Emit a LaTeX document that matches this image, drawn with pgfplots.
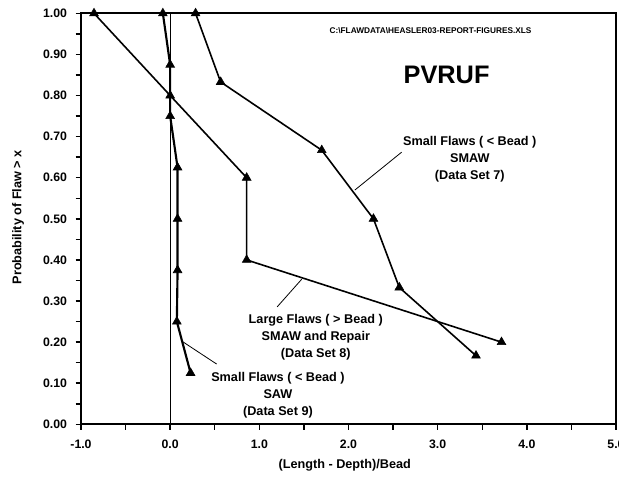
\documentclass[border=0pt]{standalone}
\usepackage{fontspec}
\setmainfont{Liberation Sans}
\usepackage{pgfplots}
\pgfplotsset{compat=1.18}
\begin{document}
\begin{tikzpicture}
\begin{axis}[
 scale only axis, width=401.25pt, height=308.25pt,
 at={(60.75pt,44.0pt)}, anchor=south west,
 xmin=-1, xmax=5, ymin=0, ymax=1,
 clip=false,
 xtick={-1,0,1,2,3,4,5},
 ytick={0,0.1,0.2,0.3,0.4,0.5,0.6,0.7,0.8,0.9,1.0},
 minor xtick={-0.5,0.5,1.5,2.5,3.5,4.5},
 minor ytick={0.05,0.15,0.25,0.35,0.45,0.55,0.65,0.75,0.85,0.95},
 tick align=outside, xtick pos=bottom, ytick pos=left,
 major tick length=4pt, minor tick length=4pt,
 every tick/.style={black, line width=1.1pt},
 axis line style={line width=1.5pt},
 /pgf/number format/assume math mode=true,
 ticklabel style={font=\bfseries\fontsize{9.2}{11}\selectfont},
 xticklabel style={/pgf/number format/fixed, /pgf/number format/fixed zerofill, /pgf/number format/precision=1, yshift=-4pt},
 yticklabel style={/pgf/number format/fixed, /pgf/number format/fixed zerofill, /pgf/number format/precision=2, xshift=-3pt},
 xlabel={(Length - Depth)/Bead},
 ylabel={Probability of Flaw > x},
 label style={font=\bfseries\fontsize{9.5}{11}\selectfont},
 xlabel style={at={(axis description cs:0.493,-0.099)}, anchor=center},
 ylabel style={at={(axis description cs:-0.1178,0.504)}, anchor=center},
]
\draw[line width=0.6pt] (axis cs:0,0) -- (axis cs:0,1);
% Data Set 7
\addplot[black, line width=1.2pt, mark=triangle*, mark size=3.8pt, mark options={solid, line width=0.4pt}] coordinates {
 (0.285,1.0) (0.566,0.833) (1.70,0.667) (2.28,0.5) (2.57,0.333) (3.43,0.167)};
% Data Set 8
\addplot[black, line width=1.2pt, mark=triangle*, mark size=3.8pt, mark options={solid, line width=0.4pt}] coordinates {
 (-0.854,1.0) (0.0,0.8) (0.858,0.6) (0.858,0.4) (3.716,0.2)};
% Data Set 9
\addplot[black, line width=1.6pt, mark=triangle*, mark size=3.8pt, mark options={solid, line width=0.4pt}] coordinates {
 (-0.082,1.0) (0.0,0.875) (0.0,0.75) (0.083,0.625) (0.083,0.5) (0.083,0.375) (0.075,0.25) (0.229,0.125)};
\node[font=\bfseries\fontsize{6.2}{7}\selectfont] at (axis cs:2.92,0.959) {C:\textbackslash FLAWDATA\textbackslash HEASLER03-REPORT-FIGURES.XLS};
\node[font=\bfseries\fontsize{19}{22}\selectfont] at (axis cs:3.10,0.850) {PVRUF};
\node[font=\bfseries\fontsize{9.5}{12.75}\selectfont, align=center, inner sep=0pt] at (axis cs:3.36,0.646) {Small Flaws ( < Bead )\\SMAW\\(Data Set 7)};
\node[font=\bfseries\fontsize{9.5}{12.75}\selectfont, align=center, inner sep=0pt] at (axis cs:1.633,0.212) {Large Flaws ( > Bead )\\SMAW and Repair\\(Data Set 8)};
\node[font=\bfseries\fontsize{9.5}{12.75}\selectfont, align=center, inner sep=0pt] at (axis cs:1.209,0.0706) {Small Flaws ( < Bead )\\SAW\\(Data Set 9)};
\draw[line width=0.6pt] (axis cs:2.071,0.570) -- (axis cs:2.595,0.662);
\draw[line width=0.6pt] (axis cs:1.201,0.286) -- (axis cs:1.475,0.353);
\draw[line width=0.6pt] (axis cs:0.129,0.2027) -- (axis cs:0.521,0.1467);
\end{axis}
\pgfresetboundingbox
\path[use as bounding box] (0,0) rectangle (464.25pt,362.25pt);
\end{tikzpicture}
\end{document}
